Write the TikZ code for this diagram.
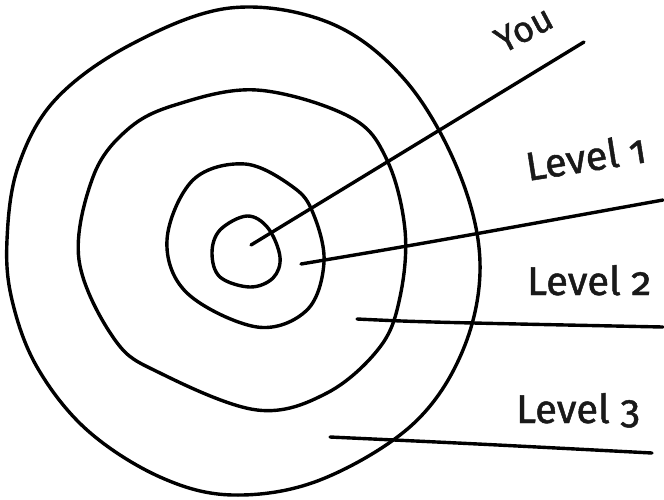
\documentclass[tikz,border=0pt]{standalone}
\usepackage{fontspec}
\setmainfont{Fira Sans}[Numbers=OldStyle,FakeBold=1.2]
\begin{document}
\begin{tikzpicture}[x=1pt,y=-1pt,
  ring/.style={line width=3.4pt,line join=round},
  pointer/.style={line width=3.4pt,line cap=round},
  lbl/.style={inner sep=0pt,anchor=base west,font=\fontsize{40}{48}\selectfont,text=black!90}]
\useasboundingbox (0,0) rectangle (664,499);
% rings
\draw[ring] plot[smooth cycle,tension=0.6] coordinates {(230,8) (330,23) (405,80) (458,170) (480,262) (463,350) (412,425) (320,480) (233,495) (160,477) (87,430) (37,367) (12,300) (7,240) (18,167) (55,100) (130,45)};
\draw[ring] plot[smooth cycle,tension=0.6] coordinates {(257,90) (350,117) (387,160) (405,230) (400,297) (380,347) (327,393) (257,410) (160,373) (115,340) (79,260) (93,177) (127,130) (175,105)};
\draw[ring] plot[smooth cycle,tension=0.6] coordinates {(245,164) (293,187) (313,213) (324,262) (307,310) (257,327) (187,293) (167,240) (193,180)};
\draw[ring] plot[smooth cycle,tension=0.6] coordinates {(247,216) (268,228) (280,257) (273,278) (250,287) (220,277) (212,253) (220,230)};
% pointer ends
\coordinate (y0) at (251,245);  \coordinate (y1) at (584,42);
\coordinate (a0) at (301,264);  \coordinate (a1) at (663,200);
\coordinate (b0) at (357,319);  \coordinate (b1) at (663,327);
\coordinate (c0) at (330,437);  \coordinate (c1) at (652,453);
\draw[pointer] (y0) -- (y1);
\draw[pointer] (a0) .. controls (420,244) .. (a1);
\draw[pointer] (b0) .. controls (420,322) .. (b1);
\draw[pointer] (c0) .. controls (480,444) .. (c1);
% labels
\node[lbl,rotate=28,font=\fontsize{36}{44}\selectfont] (you) at (503,54) {You};
\node[lbl,rotate=9] (l1) at (528,181) {Level 1};
\node[lbl] (l2) at (527,295) {Level 2};
\node[lbl] (l3) at (516,423) {Level 3};
\end{tikzpicture}
\end{document}
